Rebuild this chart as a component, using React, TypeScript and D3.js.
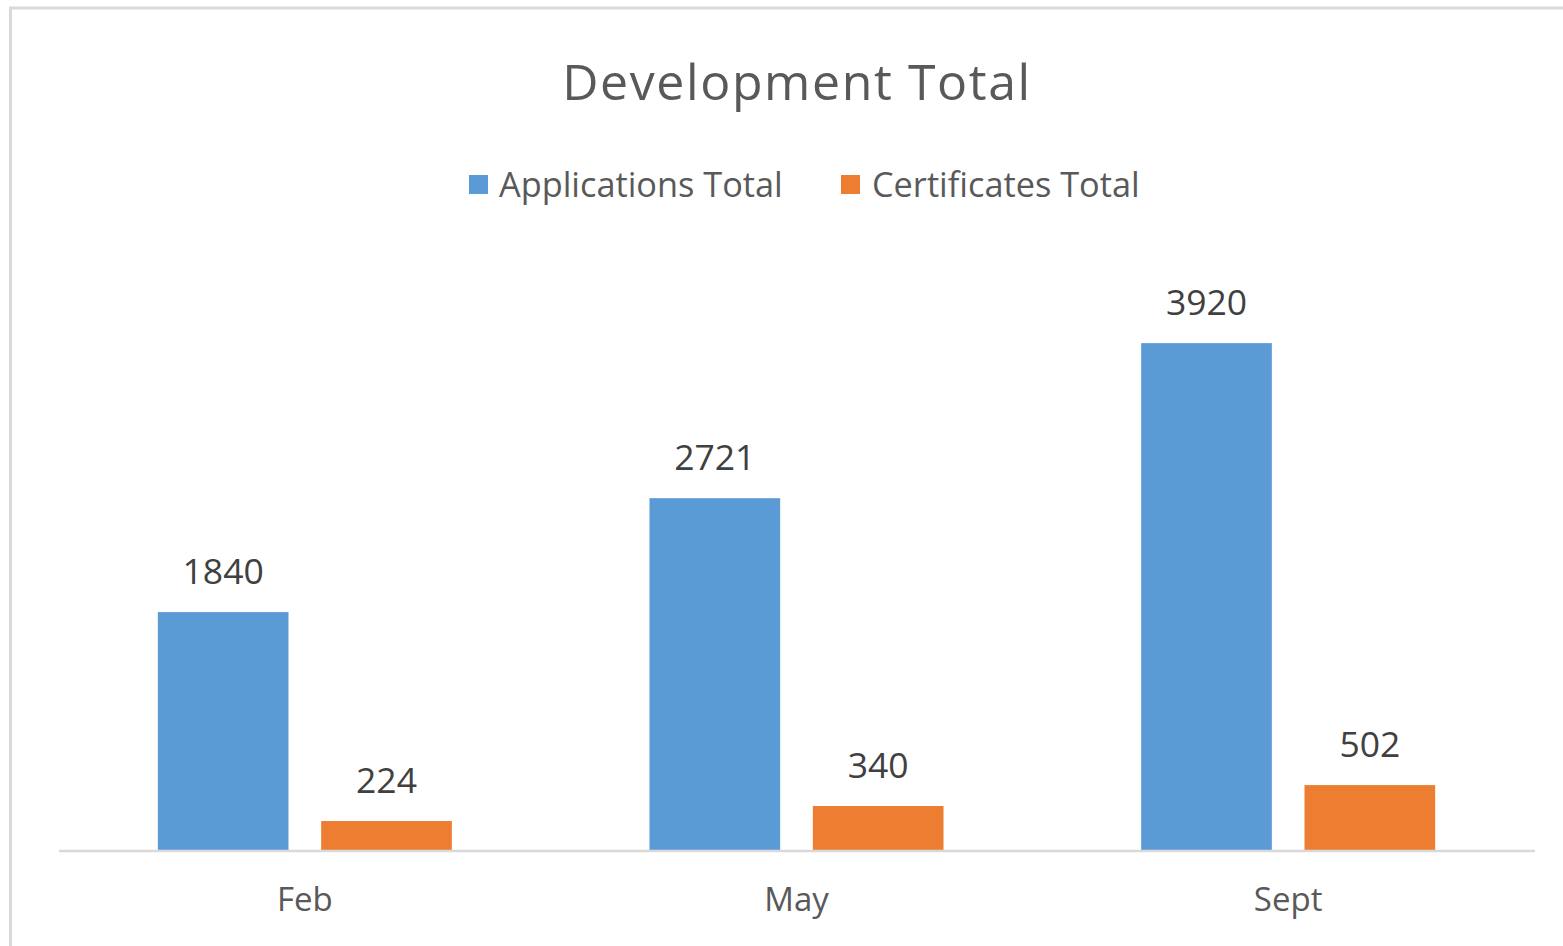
import React from "react";
import * as d3 from "d3";

const categories = ["Feb", "May", "Sept"];
const seriesNames = ["Applications Total", "Certificates Total"];
const applications = [1840, 2721, 3920];
const certificates = [224, 340, 502];
const seriesColors = ["#5B9BD5", "#ED7D31"];
const title = "Development Total";

const W = 1563;
const H = 946;
const FONT = "'Open Sans', 'Noto Sans', sans-serif";

export default function App() {
  const values = [applications, certificates];
  const x = d3.scaleBand<string>().domain(categories).range([59, 1534]).paddingInner(0).paddingOuter(0);
  const bw = x.bandwidth();
  const groupW = 294;
  const x1 = d3
    .scaleBand<string>()
    .domain(seriesNames)
    .range([bw / 2 - groupW / 2, bw / 2 + groupW / 2])
    .paddingInner(0.2)
    .paddingOuter(0);
  const y = d3.scaleLinear().domain([0, 4000]).range([850, 850 - 517.2]);

  const legendItems = [
    { name: seriesNames[0], sx: 469, tx: 499 },
    { name: seriesNames[1], sx: 841, tx: 872 },
  ];

  return (
    <div style={{ position: "fixed", left: 0, top: 0, width: W, height: H, background: "#fff" }}>
      <svg width={W} height={H} style={{ display: "block" }}>
        <rect x={0} y={0} width={W} height={H} fill="#fff" />
        <rect x={10.5} y={8} width={1700} height={1100} fill="#fff" stroke="#d9d9d9" strokeWidth={3} />
        <text x={797} y={100} textAnchor="middle" fontFamily={FONT} fontSize={50} letterSpacing={1.6} fill="#595959">
          {title}
        </text>
        {legendItems.map((l, i) => (
          <g key={l.name}>
            <rect x={l.sx} y={175} width={19} height={19} fill={seriesColors[i]} />
            <text x={l.tx} y={197} fontFamily={FONT} fontSize={34.3} fill="#595959">
              {l.name}
            </text>
          </g>
        ))}
        {categories.map((c, ci) => (
          <g key={c} transform={`translate(${x(c)},0)`}>
            {seriesNames.map((s, si) => {
              const v = values[si][ci];
              const bx = x1(s)!;
              return (
                <g key={s}>
                  <rect x={bx} y={y(v)} width={x1.bandwidth()} height={y(0) - y(v)} fill={seriesColors[si]} />
                  <text
                    x={bx + x1.bandwidth() / 2}
                    y={y(v) - 28}
                    textAnchor="middle"
                    fontFamily={FONT}
                    fontSize={35.5}
                    fill="#404040"
                  >
                    {v}
                  </text>
                </g>
              );
            })}
            <text x={bw / 2} y={911} textAnchor="middle" fontFamily={FONT} fontSize={33} fill="#595959">
              {c}
            </text>
          </g>
        ))}
        <line x1={59} x2={1535} y1={851} y2={851} stroke="#d9d9d9" strokeWidth={2.5} />
      </svg>
    </div>
  );
}
